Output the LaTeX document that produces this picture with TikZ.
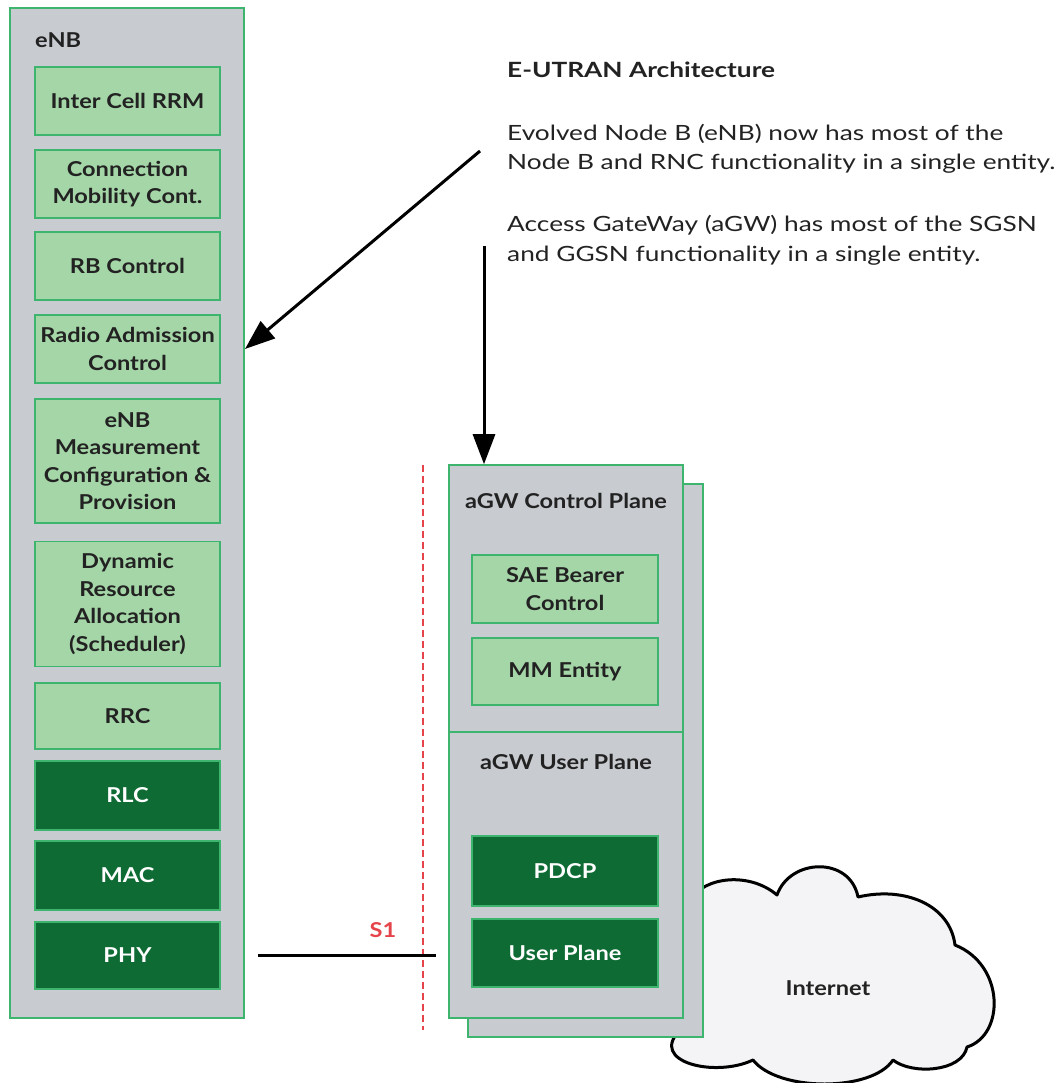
\documentclass[tikz,border=0pt]{standalone}
\usepackage{fontspec}
\setmainfont{Lato}[FakeStretch=1.15]
\newfontfamily\descfam{Lato}[FakeStretch=1.25]
\usetikzlibrary{arrows.meta}
\definecolor{panelgrey}{HTML}{C8CBD0}
\definecolor{edgegreen}{HTML}{3DB56F}
\definecolor{lightgreen}{HTML}{A5D6A7}
\definecolor{darkgreen}{HTML}{0E6B33}
\definecolor{textdark}{HTML}{222222}
\definecolor{sonered}{HTML}{E5444B}
\definecolor{cloudfill}{HTML}{F4F4F7}
\newcommand\boxfnt{\fontsize{20.5}{27.5}\selectfont\bfseries}
\newcommand\descfnt{\descfam\fontsize{21}{29}\selectfont}
\begin{document}
\begin{tikzpicture}[x=1pt,y=-1pt,
  frame/.style={draw=edgegreen,line width=1.6pt,fill=panelgrey,inner sep=0pt},
  fbox/.style={draw=edgegreen,line width=1.6pt,inner sep=0pt,align=center,font=\boxfnt},
  lbox/.style={fbox,fill=lightgreen,text=textdark},
  dbox/.style={fbox,fill=darkgreen,text=white},
  ttl/.style={font=\boxfnt,text=textdark,inner sep=0pt},
  desc/.style={font=\descfnt,text=textdark,anchor=base west,inner sep=0pt},
  arr/.style={line width=3pt,-{Triangle[length=30pt,width=22pt]}},
]
\useasboundingbox (0,0) rectangle (1063,1083);

% eNB
\node[frame,minimum width=234pt,minimum height=1010pt] (enb) at (127,513) {};
\node[ttl,anchor=base west] (enbt) at (35,48) {eNB};
\begin{scope}[every node/.append style={minimum width=185pt}]
\node[lbox,minimum height=68pt] (icr) at (127.5,101) {Inter Cell RRM};
\node[lbox,minimum height=68pt] (cmc) at (127.5,184) {Connection\\Mobility Cont.};
\node[lbox,minimum height=68pt] (rbc) at (127.5,266) {RB Control};
\node[lbox,minimum height=68pt] (rac) at (127.5,349) {Radio Admission\\Control};
\node[lbox,minimum height=124pt] (meas) at (127.5,461) {eNB\\Measurement\\Configuration \&\\Provision};
\node[lbox,minimum height=125pt] (dra) at (127.5,604) {Dynamic\\Resource\\Allocation\\(Scheduler)};
\node[lbox,minimum height=66pt] (rrc) at (127.5,716) {RRC};
\node[dbox,minimum height=69pt] (rlc) at (127.5,795.5) {RLC};
\node[dbox,minimum height=69pt] (mac) at (127.5,875.5) {MAC};
\node[dbox,minimum height=67pt] (phy) at (127.5,955.5) {PHY};
\end{scope}

% description texts
\node[desc,font=\descfnt\bfseries] (head) at (507,78) {E-UTRAN Architecture};
\node[desc] (d1a) at (507,141) {Evolved Node B (eNB) now has most of the};
\node[desc] (d1b) at (507,170) {Node B and RNC functionality in a single entity.};
\node[desc] (d2a) at (507,232) {Access GateWay (aGW) has most of the SGSN};
\node[desc] (d2b) at (507,261) {and GGSN functionality in a single entity.};

% cloud
\draw[line width=3pt,fill=cloudfill,line join=round] (690,900)
  .. controls (705,876) and (750,872) .. (777,895)
  .. controls (790,858) and (850,856) .. (858,897)
  .. controls (905,886) and (950,905) .. (955,945)
  .. controls (1005,965) and (1005,1035) .. (967,1047)
  .. controls (962,1072) and (912,1075) .. (893,1060)
  .. controls (872,1092) and (778,1092) .. (753,1060)
  .. controls (715,1078) and (648,1062) .. (680,1030)
  -- (690,900) -- cycle;
\node[font=\boxfnt,text=textdark] (inet) at (828,988) {Internet};

% aGW
\node[frame,minimum width=235pt,minimum height=553pt] (agwback) at (585.5,760.5) {};
\node[frame,minimum width=234pt,minimum height=267pt] (agwc) at (566,598.5) {};
\node[frame,minimum width=234pt,minimum height=286pt] (agwu) at (566,875) {};
\node[ttl,anchor=base] (agwct) at (566,508) {aGW Control Plane};
\node[ttl,anchor=base] (agwut) at (566,769) {aGW User Plane};
\begin{scope}[every node/.append style={minimum width=186pt}]
\node[lbox,minimum height=68pt] (sae) at (565,589) {SAE Bearer\\Control};
\node[lbox,minimum height=67pt] (mme) at (565,671.5) {MM Entity};
\node[dbox,minimum height=70pt] (pdcp) at (565,871) {PDCP};
\node[dbox,minimum height=68pt] (up) at (565,953) {User Plane};
\end{scope}

% S1 interface
\coordinate (rtop) at (423,465);
\coordinate (rbot) at (423,1030);
\draw[sonered,line width=1.4pt,dash pattern=on 7pt off 4pt] (rtop) -- (rbot);
\coordinate (sstart) at (258,955);
\coordinate (send) at (436,955);
\draw[line width=3pt] (sstart) -- (send);
\node[font=\boxfnt,text=sonered] (sone) at (383,930) {S1};

% arrows
\coordinate (a1s) at (480,151);
\coordinate (a1e) at (245,349);
\draw[arr] (a1s) -- (a1e);
\coordinate (a2s) at (484,246);
\draw[arr] (a2s) -- (a2s |- agwc.north);
\end{tikzpicture}
\end{document}
